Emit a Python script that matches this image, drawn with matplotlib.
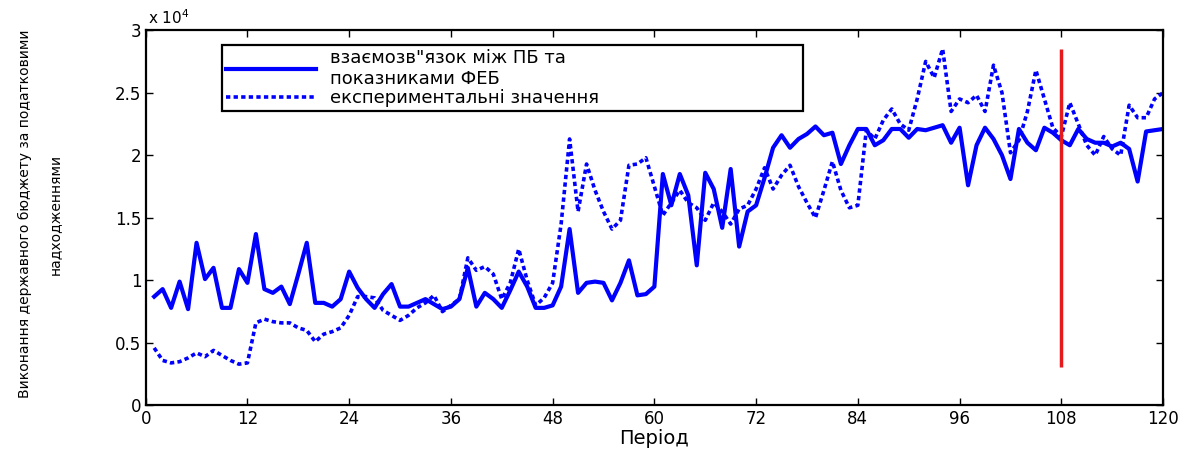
import numpy as np
import matplotlib
matplotlib.use("Agg")
import matplotlib.pyplot as plt
from matplotlib.ticker import FuncFormatter

plt.rcParams['font.family'] = ['DejaVu Sans']

# data, values in units of 10^4
periods = np.arange(1, 121)
model = [0.87, 0.93, 0.78, 0.99, 0.77, 1.30, 1.01, 1.10, 0.78, 0.78,
         1.09, 0.98, 1.37, 0.93, 0.90, 0.95, 0.81, 1.05, 1.30, 0.82,
         0.82, 0.79, 0.85, 1.07, 0.94, 0.85, 0.78, 0.89, 0.97, 0.79,
         0.79, 0.82, 0.85, 0.81, 0.77, 0.79, 0.85, 1.10, 0.79, 0.90,
         0.85, 0.78, 0.92, 1.07, 0.95, 0.78, 0.78, 0.80, 0.95, 1.41,
         0.90, 0.98, 0.99, 0.98, 0.84, 0.98, 1.16, 0.88, 0.89, 0.95,
         1.85, 1.60, 1.85, 1.68, 1.12, 1.86, 1.73, 1.42, 1.89, 1.27,
         1.55, 1.60, 1.82, 2.06, 2.16, 2.06, 2.13, 2.17, 2.23, 2.16,
         2.18, 1.93, 2.08, 2.21, 2.21, 2.08, 2.12, 2.21, 2.21, 2.14,
         2.21, 2.20, 2.22, 2.24, 2.10, 2.22, 1.76, 2.08, 2.22, 2.13,
         2.00, 1.81, 2.21, 2.10, 2.04, 2.22, 2.18, 2.12, 2.08, 2.21,
         2.13, 2.10, 2.10, 2.07, 2.10, 2.05, 1.79, 2.19, 2.20, 2.21]
experiment = [0.46, 0.36, 0.34, 0.35, 0.38, 0.42, 0.39, 0.44, 0.40, 0.36,
              0.33, 0.34, 0.66, 0.69, 0.67, 0.66, 0.66, 0.62, 0.60, 0.51,
              0.57, 0.59, 0.62, 0.72, 0.87, 0.87, 0.86, 0.76, 0.72, 0.68,
              0.72, 0.78, 0.82, 0.88, 0.75, 0.80, 0.85, 1.18, 1.08, 1.11,
              1.05, 0.85, 0.98, 1.25, 1.00, 0.80, 0.86, 0.98, 1.45, 2.13,
              1.55, 1.93, 1.72, 1.55, 1.41, 1.48, 1.92, 1.93, 1.98, 1.75,
              1.52, 1.62, 1.72, 1.62, 1.58, 1.48, 1.62, 1.55, 1.45, 1.57,
              1.60, 1.73, 1.90, 1.73, 1.84, 1.92, 1.75, 1.62, 1.50, 1.72,
              1.95, 1.72, 1.58, 1.60, 2.20, 2.13, 2.28, 2.37, 2.25, 2.20,
              2.45, 2.75, 2.62, 2.85, 2.35, 2.45, 2.42, 2.48, 2.35, 2.72,
              2.50, 2.02, 2.12, 2.35, 2.68, 2.45, 2.22, 2.15, 2.42, 2.25,
              2.08, 2.00, 2.15, 2.05, 2.00, 2.40, 2.30, 2.30, 2.45, 2.50]
split_period = 108
split_low, split_high = 0.31, 2.85

label_model = 'взаємозв"язок між ПБ та\nпоказниками ФЕБ'
label_exp = 'експериментальні значення'
ylabel = 'Виконання державного бюджету за податковими\nнадходженнями'
xticks = np.arange(0, 121, 12)
yticks = np.arange(0, 3.01, 0.5)

fig = plt.figure(figsize=(12.04, 4.5), dpi=100)
ax = fig.add_axes([0.121, 0.099, 0.845, 0.834])

blue = '#0000ff'
ax.plot(periods, model, color=blue, lw=3.0, label=label_model)
ax.plot(periods, experiment, color=blue, lw=2.6, linestyle=(0, (1.2, 0.9)),
        label=label_exp)
ax.vlines(split_period, split_low, split_high, color='#e41a1c', lw=2.5)

ax.set_xlim(0, 120)
ax.set_ylim(0, 3)
ax.set_xticks(xticks)
ax.set_yticks(yticks)
ax.yaxis.set_major_formatter(FuncFormatter(lambda v, p: '%g' % v))
ax.tick_params(direction='in', top=True, right=True, length=5, width=1,
               labelsize=12, pad=3)
for s in ax.spines.values():
    s.set_linewidth(1.6)

ax.text(0.002, 1.008, 'x 10$^4$', transform=ax.transAxes, fontsize=11,
        ha='left', va='bottom')

ax.set_xlabel('Період', fontsize=14, labelpad=1)
ax.set_ylabel(ylabel, fontsize=10, linespacing=2.5)
ax.yaxis.set_label_coords(-0.082, 0.51)

leg = ax.legend(loc='upper left', bbox_to_anchor=(0.075, 0.5, 0.571, 0.46),
                mode='expand', borderaxespad=0, fancybox=False, framealpha=1,
                edgecolor='black', fontsize=13, handlelength=5.0,
                labelspacing=0.1, borderpad=0.2, handletextpad=0.8)
leg.get_frame().set_linewidth(1.6)

fig.savefig('out.png', dpi=100)
